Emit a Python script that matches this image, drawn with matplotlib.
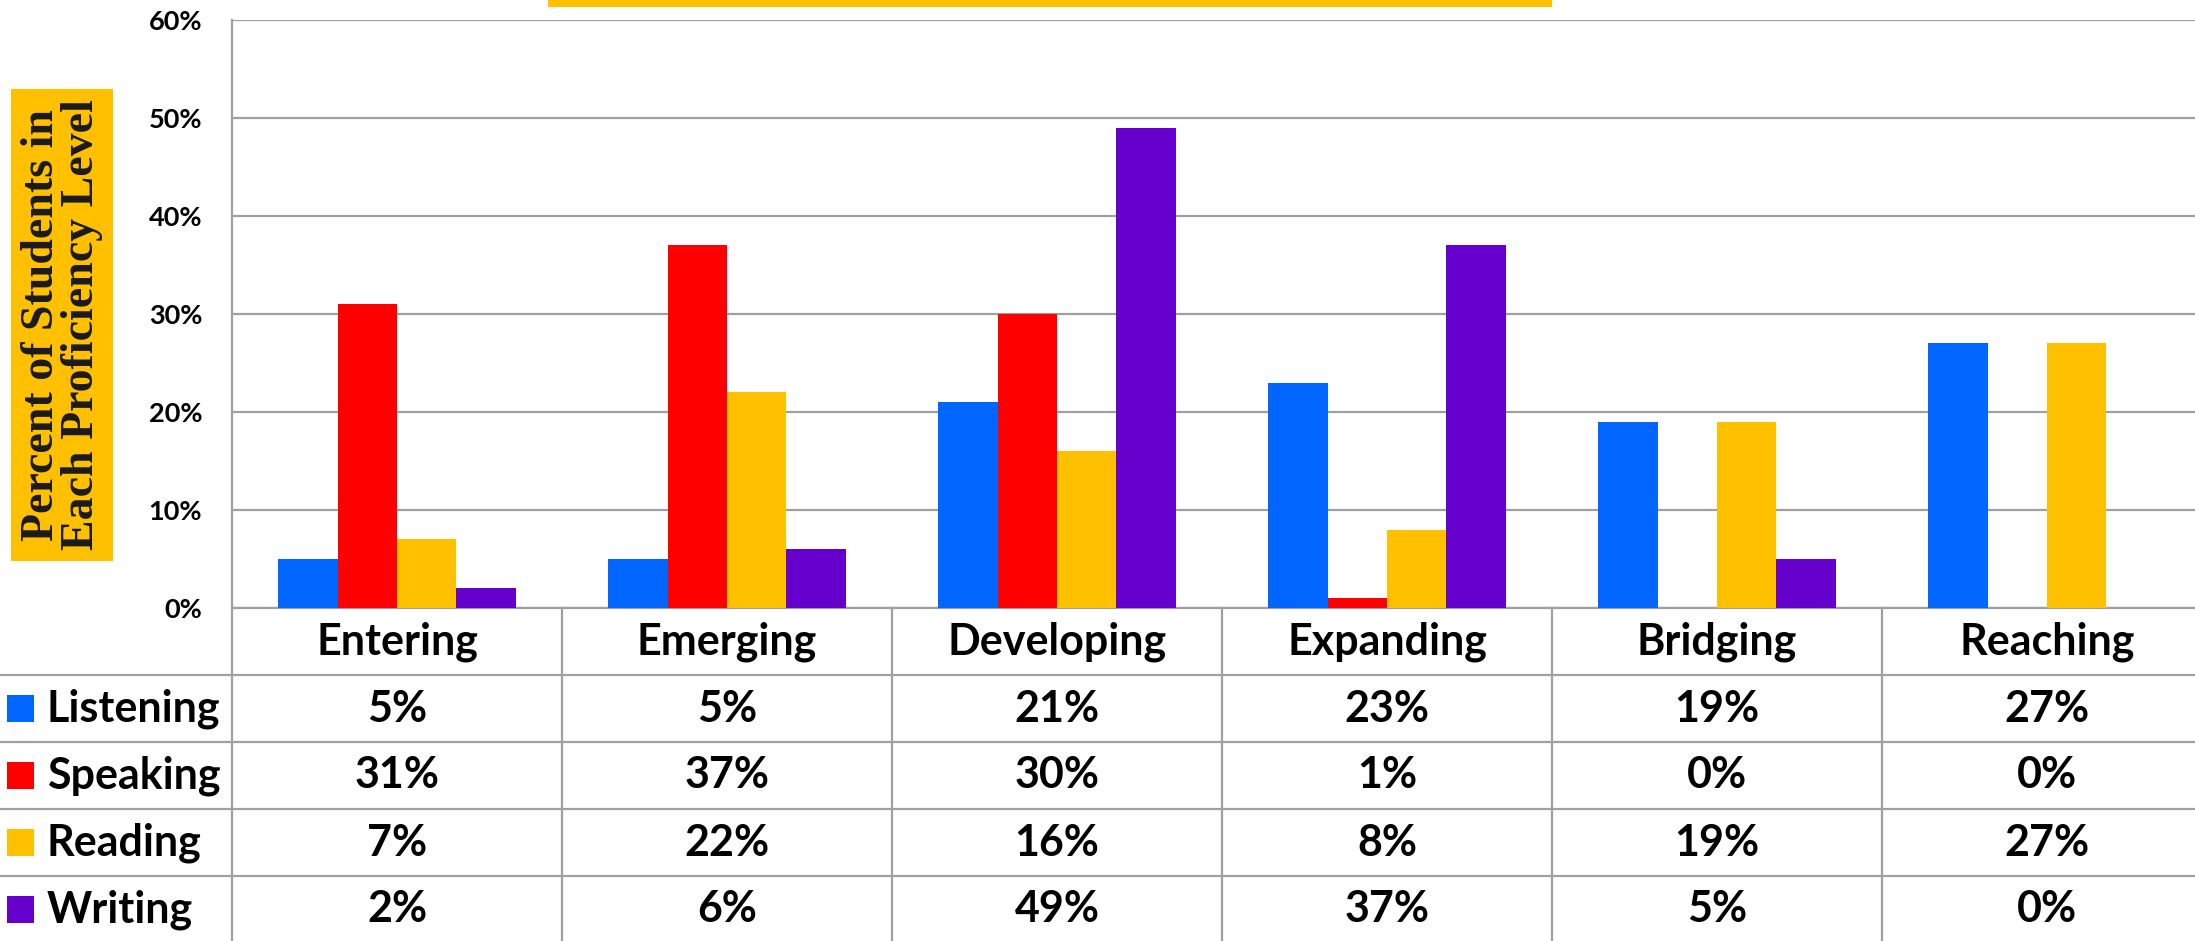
import matplotlib.pyplot as plt
from matplotlib.lines import Line2D
from matplotlib.patches import Rectangle
from matplotlib.transforms import blended_transform_factory
import numpy as np

levels = ['Entering', 'Emerging', 'Developing', 'Expanding', 'Bridging', 'Reaching']
skills = ['Listening', 'Speaking', 'Reading', 'Writing']
listening = [5, 5, 21, 23, 19, 27]
speaking = [31, 37, 30, 1, 0, 0]
reading = [7, 22, 16, 8, 19, 27]
writing = [2, 6, 49, 37, 5, 0]
colors = ['#0066FF', '#FF0000', '#FFC000', '#6600CC']
yticks = [0, 10, 20, 30, 40, 50, 60]

W, H = 2195, 941
grid_col = '#A0A0A0'
sans = ['Lato', 'DejaVu Sans']
tsize = 31

fig = plt.figure(figsize=(W / 100, H / 100), dpi=100)

# plot area in pixels: left 232, right 2212 (cut off), top 20, bottom 608
ax_left, ax_right, ax_top, ax_bot = 232, 2212, 20, 608
ax = fig.add_axes([ax_left / W, 1 - ax_bot / H, (ax_right - ax_left) / W, (ax_bot - ax_top) / H])

series = [listening, speaking, reading, writing]
x = np.arange(len(levels))
bw = 0.18
for i, (vals, c) in enumerate(zip(series, colors)):
    ax.bar(x + (i - 1.5) * bw, vals, width=bw, color=c, zorder=3)

ax.set_xlim(-0.5, len(levels) - 0.5)
ax.set_ylim(0, 60)
ax.set_yticks(yticks)
ax.set_yticklabels([f'{t}%' for t in yticks], fontsize=19.5, fontweight='bold', family=sans)
ax.tick_params(axis='y', length=0, pad=21.5)
ax.set_xticks([])
ax.grid(axis='y', color=grid_col, linewidth=1.6, zorder=0)
for s in ['top', 'right']:
    ax.spines[s].set_visible(False)
for s in ['left', 'bottom']:
    ax.spines[s].set_color(grid_col)
    ax.spines[s].set_linewidth(1.6)

# y label in a yellow box
fig.text(62 / W, 1 - 325 / H, 'Percent of Students in\nEach Proficiency Level',
         rotation=90, ha='center', va='center', fontsize=33, fontweight='bold',
         family='Liberation Serif', color='#1A1A1A', linespacing=0.95,
         bbox=dict(boxstyle='square,pad=0.22', facecolor='#FFC000', edgecolor='none'))

# title box, cut off at the top edge
fig.patches.append(Rectangle((548 / W, 1 - 7 / H), (1552 - 548) / W, 8 / H,
                             transform=fig.transFigure, facecolor='#FFC000', edgecolor='none'))

# data table below the plot
row_h = 67
row_tops = [ax_bot + k * row_h for k in range(6)]  # category row then 4 skill rows
tr = blended_transform_factory(ax.transData, fig.transFigure)

for k in range(1, 5):
    yy = 1 - row_tops[k] / H
    fig.add_artist(Line2D([0, 1], [yy, yy], transform=fig.transFigure,
                          color=grid_col, linewidth=1.6))
for b in np.arange(-0.5, len(levels) + 0.5):
    fig.add_artist(Line2D([b, b], [1 - ax_bot / H, 0], transform=tr,
                          color=grid_col, linewidth=1.6, clip_on=False))

def row_y(k):
    return 1 - (row_tops[k] + row_h / 2) / H

for j, lev in enumerate(levels):
    fig.text(j, row_y(0), lev, transform=tr, ha='center', va='center',
             fontsize=tsize, fontweight='bold', family=sans)

for r, (name, vals, c) in enumerate(zip(skills, series, colors)):
    yy = row_y(r + 1)
    fig.patches.append(Rectangle((7 / W, yy - 13.5 / H), 27 / W, 27 / H,
                                 transform=fig.transFigure, facecolor=c, edgecolor='none'))
    fig.text(47 / W, yy, name, ha='left', va='center', fontsize=tsize,
             fontweight='bold', family=sans)
    for j, v in enumerate(vals):
        fig.text(j, yy, f'{v}%', transform=tr, ha='center', va='center',
                 fontsize=tsize, fontweight='bold', family=sans)

fig.savefig('out.png', dpi=100)
